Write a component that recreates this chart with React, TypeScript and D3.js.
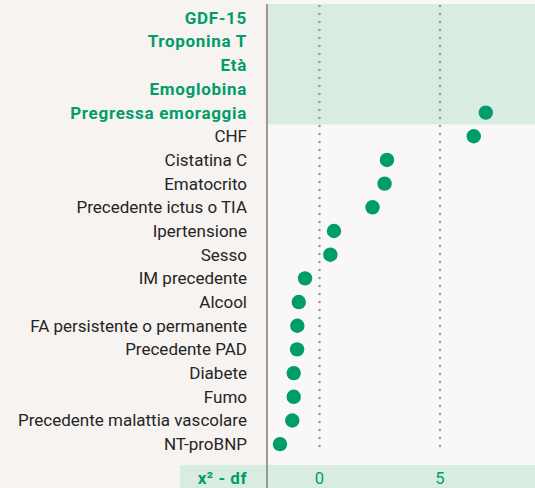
import React, { useRef, useEffect } from "react";
import * as d3 from "d3";

// variables, top to bottom
const variables = [
  "GDF-15",
  "Troponina T",
  "Età",
  "Emoglobina",
  "Pregressa emoraggia",
  "CHF",
  "Cistatina C",
  "Ematocrito",
  "Precedente ictus o TIA",
  "Ipertensione",
  "Sesso",
  "IM precedente",
  "Alcool",
  "FA persistente o permanente",
  "Precedente PAD",
  "Diabete",
  "Fumo",
  "Precedente malattia vascolare",
  "NT-proBNP",
];
// chi-square minus degrees of freedom (top four fall off the scale)
const chiSqMinusDf = [
  40, 30, 22, 15, 6.9, 6.4, 2.8, 2.7, 2.2, 0.6, 0.45, -0.6, -0.86, -0.92, -0.93, -1.07, -1.07, -1.13,
  -1.64,
];
const highlighted = ["GDF-15", "Troponina T", "Età", "Emoglobina", "Pregressa emoraggia"];
const xTicks = [0, 5];
const axisTitle = "x² - df";

const GREEN = "#009c6b";
const BAND = "#d8ece2";
const FONT = "Roboto, sans-serif";

const App = () => {
  const svgRef = useRef<SVGSVGElement>(null);

  useEffect(() => {
    const svg = d3.select(svgRef.current);
    svg.selectAll("*").remove();
    const W = 535;
    const H = 488;
    const axisX = 267;
    const top = 4;
    const rowsTop = 6;
    const rowsBottom = 456;

    const x = d3.scaleLinear().domain([0, 5]).range([319.5, 440]);
    const y = d3.scaleBand().domain(variables).range([rowsTop, rowsBottom]).paddingInner(0).paddingOuter(0);

    // backgrounds
    svg.append("rect").attr("width", W).attr("height", H).attr("fill", "#f6f3f0");
    svg.append("rect").attr("x", axisX).attr("width", W - axisX).attr("height", H).attr("fill", "#f9f8f7");

    const lastHi = highlighted[highlighted.length - 1];
    svg
      .append("rect")
      .attr("x", axisX)
      .attr("y", top)
      .attr("width", W - axisX)
      .attr("height", y(lastHi)! + y.bandwidth() - top)
      .attr("fill", BAND);

    // bottom axis band
    svg.append("rect").attr("x", 180).attr("y", 465).attr("width", W - 180).attr("height", H - 465).attr("fill", BAND);

    // dotted reference lines
    svg
      .selectAll("line.grid")
      .data(xTicks)
      .join("line")
      .attr("class", "grid")
      .attr("x1", (d) => x(d))
      .attr("x2", (d) => x(d))
      .attr("y1", top + 2)
      .attr("y2", 454)
      .attr("stroke", "#999897")
      .attr("stroke-width", 2.5)
      .attr("stroke-linecap", "round")
      .attr("stroke-dasharray", "0,8");

    // vertical axis line
    svg
      .append("line")
      .attr("x1", axisX)
      .attr("x2", axisX)
      .attr("y1", top)
      .attr("y2", H)
      .attr("stroke", "#9b9896")
      .attr("stroke-width", 2);

    // labels
    svg
      .selectAll("text.lab")
      .data(variables)
      .join("text")
      .attr("class", "lab")
      .attr("x", 247)
      .attr("y", (d) => y(d)! + y.bandwidth() / 2)
      .attr("dy", "0.35em")
      .attr("text-anchor", "end")
      .attr("font-family", FONT)
      .attr("font-size", 17)
      .attr("font-weight", (d) => (highlighted.includes(d) ? 700 : 400))
      .attr("letter-spacing", (d) => (highlighted.includes(d) ? 0.7 : 0))
      .attr("fill", (d) => (highlighted.includes(d) ? GREEN : "#252525"))
      .text((d) => d);

    // dots, clipped to the plot area
    svg
      .append("clipPath")
      .attr("id", "plotclip")
      .append("rect")
      .attr("x", axisX + 1)
      .attr("y", 0)
      .attr("width", W - axisX)
      .attr("height", H);

    svg
      .append("g")
      .attr("clip-path", "url(#plotclip)")
      .selectAll("circle")
      .data(variables)
      .join("circle")
      .attr("cx", (d, i) => x(chiSqMinusDf[i]))
      .attr("cy", (d) => y(d)! + y.bandwidth() / 2)
      .attr("r", 7.2)
      .attr("fill", GREEN);

    // bottom axis
    svg
      .append("text")
      .attr("x", 247)
      .attr("y", 478)
      .attr("dy", "0.35em")
      .attr("text-anchor", "end")
      .attr("font-family", FONT)
      .attr("font-size", 17)
      .attr("font-weight", 700)
      .attr("letter-spacing", 0.5)
      .attr("fill", GREEN)
      .text(axisTitle);

    svg
      .selectAll("text.tick")
      .data(xTicks)
      .join("text")
      .attr("class", "tick")
      .attr("x", (d) => x(d))
      .attr("y", 478)
      .attr("dy", "0.35em")
      .attr("text-anchor", "middle")
      .attr("font-family", FONT)
      .attr("font-size", 16.5)
      .attr("fill", GREEN)
      .text((d) => d);
  }, []);

  return (
    <svg
      ref={svgRef}
      width={535}
      height={488}
      style={{ position: "absolute", left: 0, top: 0, display: "block" }}
    ></svg>
  );
};

export default App;
